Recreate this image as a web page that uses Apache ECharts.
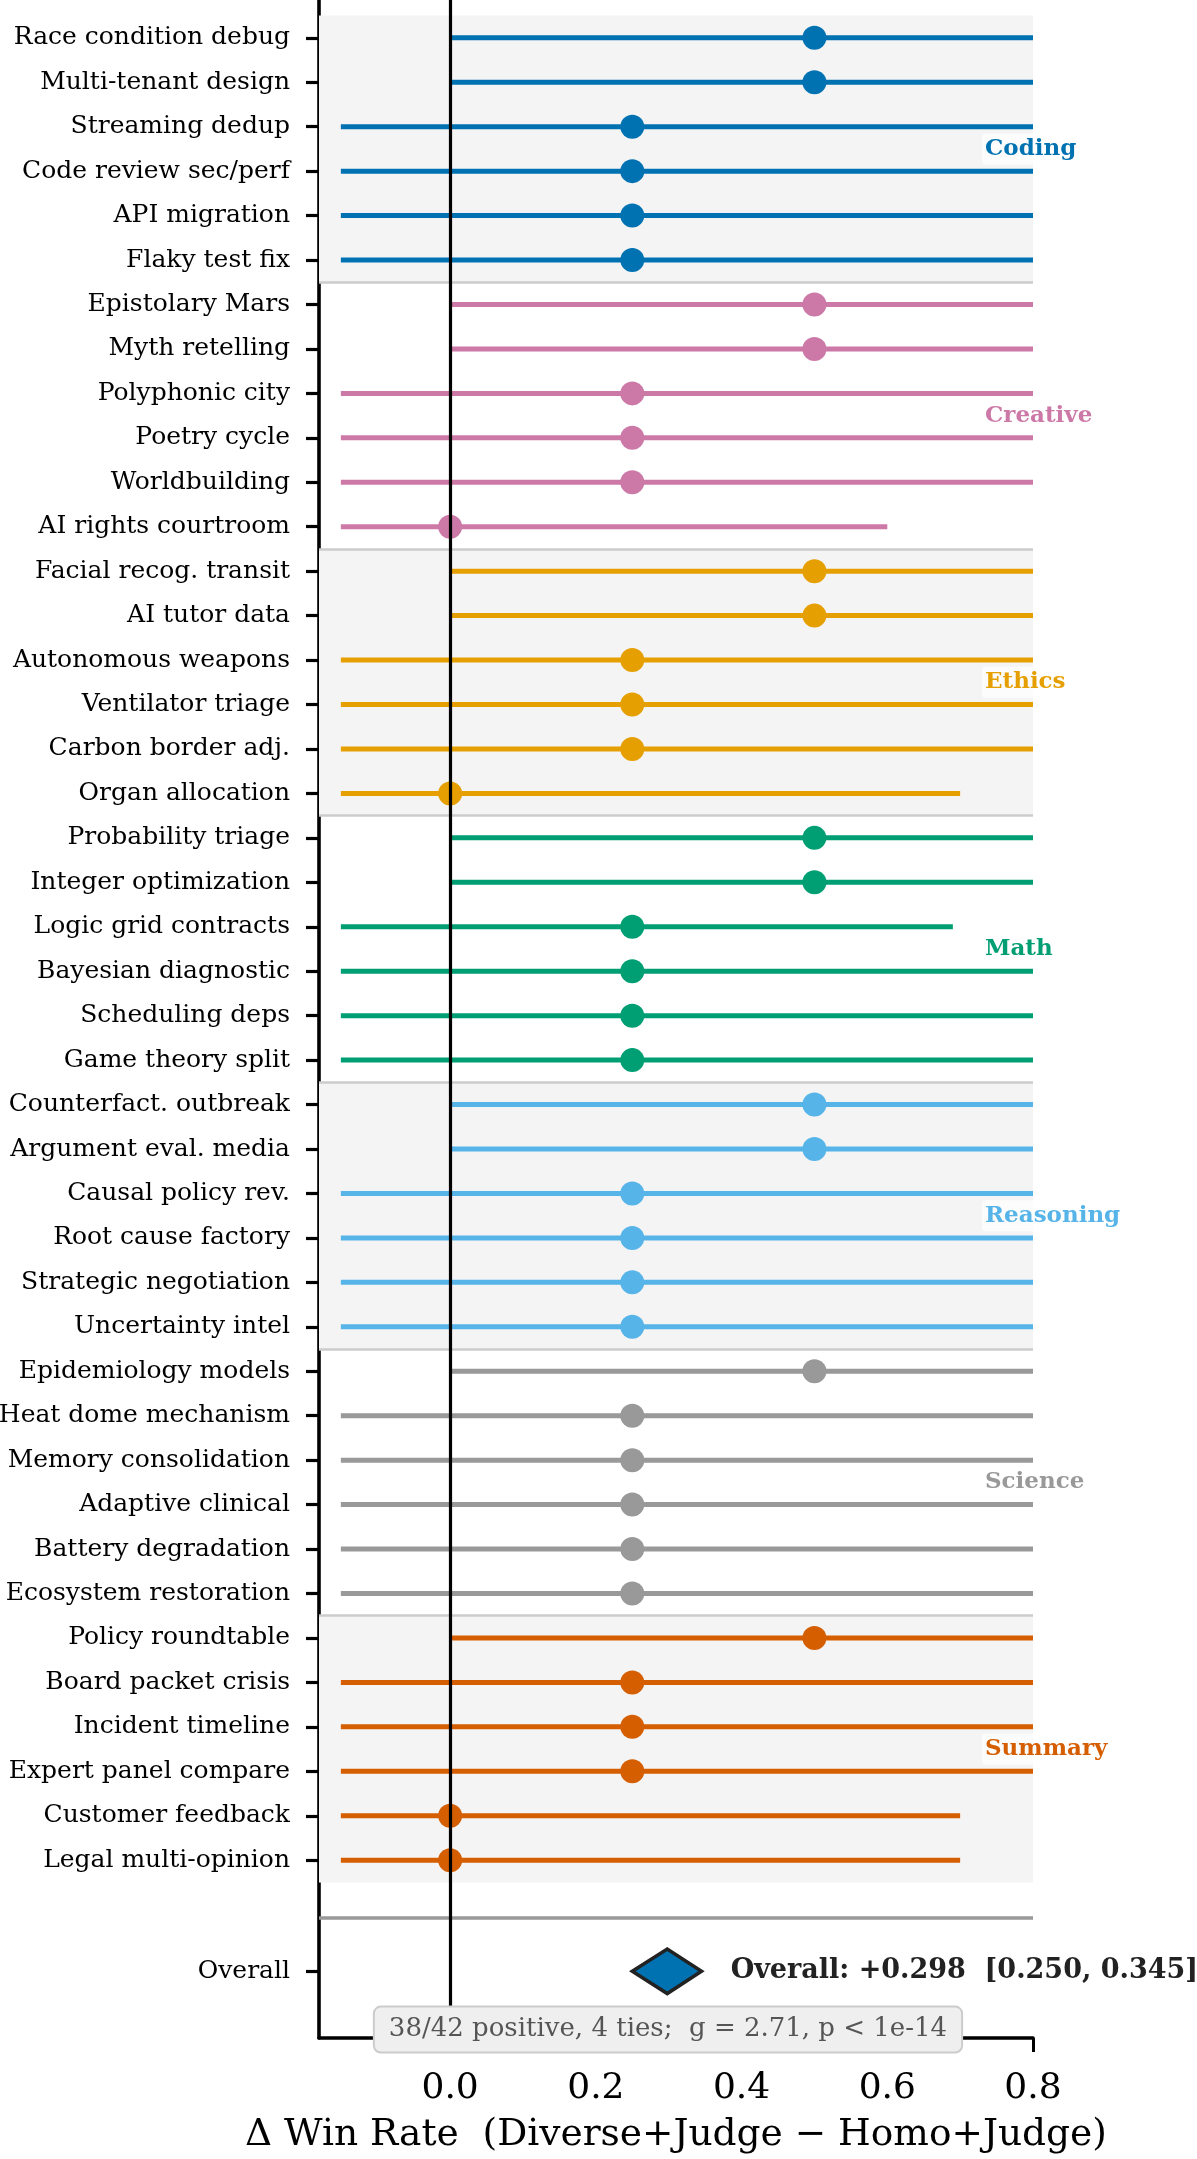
<!DOCTYPE html>
<html>
  <head>
    <meta charset="utf-8" />
    <title>Win rate forest plot</title>
    <script src="https://cdn.jsdelivr.net/npm/echarts@6/dist/echarts.min.js"></script>
  </head>
  <body style="margin:0;background:#fff">
    <div id="main" style="width:1197px;height:2159px"></div>
    <script type="text/javascript">
      // task rows, top to bottom
      var taskNames = [
        'Race condition debug', 'Multi-tenant design', 'Streaming dedup', 'Code review sec/perf', 'API migration', 'Flaky test fix',
        'Epistolary Mars', 'Myth retelling', 'Polyphonic city', 'Poetry cycle', 'Worldbuilding', 'AI rights courtroom',
        'Facial recog. transit', 'AI tutor data', 'Autonomous weapons', 'Ventilator triage', 'Carbon border adj.', 'Organ allocation',
        'Probability triage', 'Integer optimization', 'Logic grid contracts', 'Bayesian diagnostic', 'Scheduling deps', 'Game theory split',
        'Counterfact. outbreak', 'Argument eval. media', 'Causal policy rev.', 'Root cause factory', 'Strategic negotiation', 'Uncertainty intel',
        'Epidemiology models', 'Heat dome mechanism', 'Memory consolidation', 'Adaptive clinical', 'Battery degradation', 'Ecosystem restoration',
        'Policy roundtable', 'Board packet crisis', 'Incident timeline', 'Expert panel compare', 'Customer feedback', 'Legal multi-opinion'
      ];
      var taskMeans = [
        0.5, 0.5, 0.25, 0.25, 0.25, 0.25,
        0.5, 0.5, 0.25, 0.25, 0.25, 0.0,
        0.5, 0.5, 0.25, 0.25, 0.25, 0.0,
        0.5, 0.5, 0.25, 0.25, 0.25, 0.25,
        0.5, 0.5, 0.25, 0.25, 0.25, 0.25,
        0.5, 0.25, 0.25, 0.25, 0.25, 0.25,
        0.5, 0.25, 0.25, 0.25, 0.0, 0.0
      ];
      var ciLow = [
        0.0, 0.0, -0.15, -0.15, -0.15, -0.15,
        0.0, 0.0, -0.15, -0.15, -0.15, -0.15,
        0.0, 0.0, -0.15, -0.15, -0.15, -0.15,
        0.0, 0.0, -0.15, -0.15, -0.15, -0.15,
        0.0, 0.0, -0.15, -0.15, -0.15, -0.15,
        0.0, -0.15, -0.15, -0.15, -0.15, -0.15,
        0.0, -0.15, -0.15, -0.15, -0.15, -0.15
      ];
      var ciHigh = [
        1.0, 1.0, 0.9, 0.9, 0.9, 0.9,
        1.0, 1.0, 0.9, 0.9, 0.9, 0.60,
        1.0, 1.0, 0.9, 0.9, 0.9, 0.70,
        1.0, 1.0, 0.69, 0.9, 0.9, 0.9,
        1.0, 1.0, 0.9, 0.9, 0.9, 0.9,
        1.0, 0.9, 0.9, 0.9, 0.9, 0.9,
        1.0, 0.9, 0.9, 0.9, 0.70, 0.70
      ];
      var groupNames = ['Coding', 'Creative', 'Ethics', 'Math', 'Reasoning', 'Science', 'Summary'];
      var groupColors = ['#0072B2', '#CC79A7', '#E69F00', '#009E73', '#56B4E9', '#999999', '#D55E00'];
      var groupSize = 6;

      var overallMean = 0.298;
      var overallLow = 0.250;
      var overallHigh = 0.345;
      var overallRow = 43.5;
      var statsText = '38/42 positive, 4 ties;  g = 2.71, p < 1e-14';

      var xTicks = [0.0, 0.2, 0.4, 0.6, 0.8];
      var X_MIN = -0.18, X_MAX = 0.8;
      var FONT = '"DejaVu Serif"';

      var rowTicks = taskNames.map(function (n, i) { return i; }).concat([overallRow]);

      var ciData = taskNames.map(function (name, i) {
        var g = Math.floor(i / groupSize);
        return { value: [taskMeans[i], i, ciLow[i], ciHigh[i]], itemStyle: { color: groupColors[g] } };
      });
      var dotData = taskNames.map(function (name, i) {
        var g = Math.floor(i / groupSize);
        return { value: [taskMeans[i], i], itemStyle: { color: groupColors[g], opacity: 1 } };
      });
      var groupLabelData = groupNames.map(function (name, g) {
        return { value: [0.73, g * groupSize + (groupSize - 1) / 2], name: name, itemStyle: { color: groupColors[g] } };
      });

      // shaded bands on every other group, thin separators between groups
      var bands = [];
      var seps = [];
      groupNames.forEach(function (name, g) {
        var top = g * groupSize - 0.5;
        if (g % 2 === 0) bands.push([{ yAxis: top }, { yAxis: top + groupSize }]);
        if (g > 0) seps.push({ yAxis: top, lineStyle: { color: '#cccccc', width: 2.5, type: 'solid' } });
      });
      seps.push({ yAxis: 42.3, lineStyle: { color: '#999999', width: 3.5, type: 'solid' } });

      var myChart = echarts.init(document.getElementById('main'), null, { renderer: 'canvas' });
      var option = {
        animation: false,
        backgroundColor: '#ffffff',
        textStyle: { fontFamily: FONT },
        grid: { left: 319, right: 164, top: 0, bottom: 121, containLabel: false, outerBoundsMode: 'none' },
        xAxis: {
          type: 'value',
          min: X_MIN,
          max: X_MAX,
          splitLine: { show: false },
          axisLine: { show: true, onZero: false, lineStyle: { color: '#000', width: 3.6 } },
          axisTick: { show: true, length: 14, lineStyle: { color: '#000', width: 3 }, customValues: xTicks },
          axisLabel: {
            customValues: xTicks,
            fontSize: 36, fontFamily: FONT, color: '#000', margin: 33,
            formatter: function (v) { return v.toFixed(1); }
          },
          name: 'Δ Win Rate  (Diverse+Judge − Homo+Judge)',
          nameLocation: 'middle',
          nameGap: 78,
          nameTextStyle: { fontSize: 37.5, fontFamily: FONT, color: '#000' }
        },
        yAxis: {
          type: 'value',
          inverse: true,
          min: -0.85,
          max: 45,
          splitLine: { show: false },
          axisLine: { show: true, onZero: false, lineStyle: { color: '#000', width: 3.6 } },
          axisTick: { show: true, length: 13, lineStyle: { color: '#000', width: 3.2 }, customValues: rowTicks },
          axisLabel: {
            customValues: rowTicks,
            fontSize: 25, fontFamily: FONT, color: '#000', margin: 29,
            formatter: function (v) { return v === overallRow ? 'Overall' : taskNames[Math.round(v)]; }
          }
        },
        series: [
          {
            name: 'background',
            type: 'scatter',
            data: [],
            z: 1,
            silent: true,
            markArea: { silent: true, itemStyle: { color: '#f4f4f4' }, data: bands },
            markLine: { silent: true, symbol: ['none', 'none'], label: { show: false }, data: seps }
          },
          {
            name: 'ci',
            type: 'custom',
            z: 2,
            clip: true,
            silent: true,
            data: ciData,
            encode: { x: [0, 2, 3], y: 1 },
            renderItem: function (params, api) {
              var y = api.value(1);
              var p1 = api.coord([api.value(2), y]);
              var p2 = api.coord([Math.min(api.value(3), X_MAX), y]);
              return {
                type: 'line',
                shape: { x1: p1[0], y1: p1[1], x2: p2[0], y2: p2[1] },
                style: { stroke: api.visual('color'), lineWidth: 5 }
              };
            }
          },
          {
            name: 'zero',
            type: 'scatter',
            data: [],
            z: 3,
            silent: true,
            markLine: {
              silent: true, symbol: ['none', 'none'], label: { show: false },
              lineStyle: { color: '#000', width: 3.2, type: 'solid' },
              data: [{ xAxis: 0 }]
            }
          },
          {
            name: 'tasks',
            type: 'scatter',
            z: 4,
            silent: true,
            symbol: 'circle',
            symbolSize: 24,
            itemStyle: { opacity: 1 },
            data: dotData
          },
          {
            name: 'groups',
            type: 'custom',
            z: 5,
            silent: true,
            data: groupLabelData,
            renderItem: function (params, api) {
              var p = api.coord([api.value(0), api.value(1)]);
              var item = groupLabelData[params.dataIndex];
              return {
                type: 'text',
                x: p[0], y: p[1],
                style: {
                  text: item.name,
                  fill: item.itemStyle.color,
                  font: 'bold 23px "DejaVu Serif"',
                  align: 'left', verticalAlign: 'middle',
                  backgroundColor: 'rgba(255,255,255,0.7)',
                  padding: [4, 3, 4, 3],
                  borderRadius: 3
                }
              };
            }
          },
          {
            name: 'overall',
            type: 'custom',
            z: 6,
            silent: true,
            data: [[overallMean, overallRow, overallLow, overallHigh]],
            encode: { x: [0, 2, 3], y: 1 },
            renderItem: function (params, api) {
              var y = api.value(1);
              var m = api.value(0), lo = api.value(2), hi = api.value(3);
              var pl = api.coord([lo, y]);
              var pt = api.coord([m, y - 0.5]);
              var pr = api.coord([hi, y]);
              var pb = api.coord([m, y + 0.5]);
              var pText = api.coord([hi + 0.04, y]);
              return {
                type: 'group',
                children: [
                  {
                    type: 'polygon',
                    shape: { points: [pl, pt, pr, pb] },
                    style: { fill: '#0072B2', stroke: '#222222', lineWidth: 3.5, lineJoin: 'miter' }
                  },
                  {
                    type: 'text',
                    x: pText[0], y: pText[1],
                    style: {
                      text: 'Overall: +' + m.toFixed(3) + '  [' + lo.toFixed(3) + ', ' + hi.toFixed(3) + ']',
                      fill: '#222222',
                      font: 'bold 27px "DejaVu Serif"',
                      align: 'left', verticalAlign: 'middle'
                    }
                  }
                ]
              };
            }
          },
          {
            name: 'stats',
            type: 'custom',
            z: 7,
            silent: true,
            data: [[0.299, 44.81]],
            renderItem: function (params, api) {
              var p = api.coord([api.value(0), api.value(1)]);
              return {
                type: 'text',
                x: p[0], y: p[1],
                style: {
                  text: statsText,
                  fill: '#555555',
                  font: '26px "DejaVu Serif"',
                  align: 'center', verticalAlign: 'middle',
                  backgroundColor: '#efefef',
                  borderColor: '#cccccc',
                  borderWidth: 2,
                  borderRadius: 6,
                  padding: [9, 14, 9, 14]
                }
              };
            }
          }
        ]
      };
      myChart.setOption(option);
    </script>
  </body>
</html>
